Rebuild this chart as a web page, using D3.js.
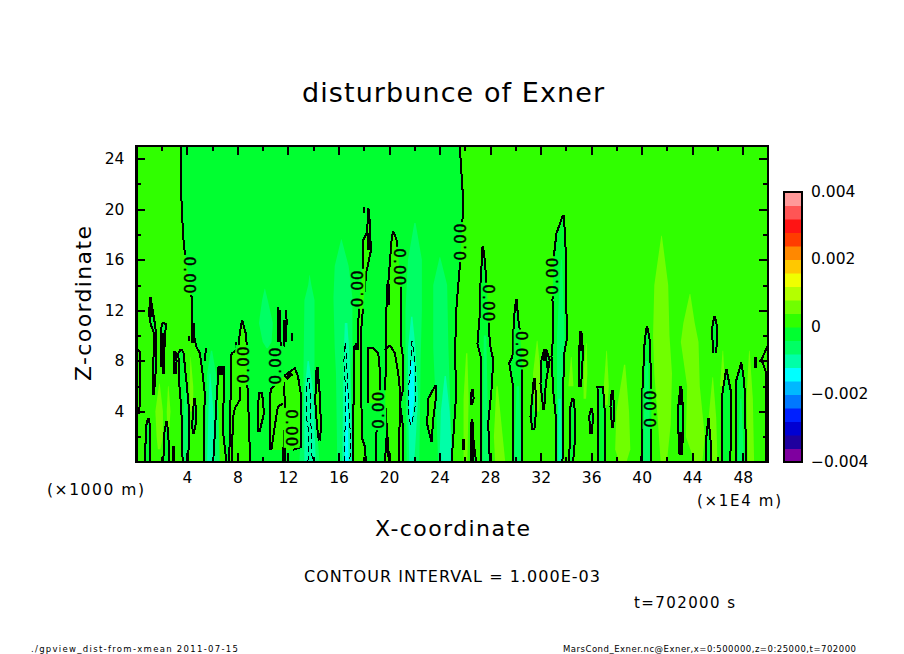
<!DOCTYPE html>
<html>
<head>
<meta charset="utf-8">
<style>
  html, body { margin: 0; padding: 0; background: #fff; }
  svg { display: block; }
  text { font-family: "DejaVu Sans", sans-serif; fill: #000; }
</style>
<script src="https://cdn.jsdelivr.net/npm/d3@7"></script>
</head>
<body>
<svg></svg>
<script>
// Colour bar: 20 levels between -0.004 and 0.004
let levelColors = ['#7f009f', '#1e009e', '#0000d2', '#0020ff', '#0078ff', '#00b8ff', '#00ffff', '#00ffa8', '#00ff64', '#00ff30',
                   '#30ff00', '#70ff00', '#b4ff00', '#f0ff00', '#ffc800', '#ff8800', '#ff3c00', '#ff1414', '#ff5555', '#ff9999']
let barTicks = [0.004, 0.002, 0, -0.002, -0.004]
let barTickLabels = ['0.004', '0.002', '0', '\u22120.002', '\u22120.004']

let xMajor = [4, 8, 12, 16, 20, 24, 28, 32, 36, 40, 44, 48]
let xMinor = [2, 6, 10, 14, 18, 22, 26, 30, 34, 38, 42, 46]
let zMajor = [4, 8, 12, 16, 20, 24]
let zMinor = [2, 6, 10, 14, 18, 22]

// Zero contours that split the field into positive / negative / positive, [x, z]
let divideLeft = [[3.5, 25], [3.58, 20.2], [3.71, 17.8], [3.84, 16.5], [4.37, 13.05], [4.37, 12.8], [4.45, 10.4], [4.76, 9.1], [5.03, 8.6], [5.24, 7], [5.42, 5.4], [5.34, 2.8], [5.34, 0]]
let divideRight = [[25.6, 25], [25.82, 21.5], [25.82, 19.26], [25.6, 15.44], [25.34, 12.28], [25.21, 8.33], [25.34, 5.7], [24.95, 0]]

// Closed or bottom-open zero contours, rows of [z, xLeft, xRight] from the bottom up
let negativePlumes = [
  [[5.3, 1.34, 1.39], [7.5, 1.34, 1.55], [10.2, 1.39, 1.55], [10.9, 1.13, 1.47], [11.7, 1, 1.34], [12.8, 1.08, 1.16], [13, 1.1, 1.12]],
  [[7, 2.13, 2.16], [9.6, 1.92, 2.24], [10.9, 2, 2.34], [11, 2.1, 2.13]],
  [[7, 3, 3.1], [8, 2.95, 3.18], [8.7, 3, 3.1]],
  [[0, 3.66, 4.1], [3.58, 3.58, 4.2], [4.9, 3.5, 4.1], [6.2, 3.39, 3.98], [7.5, 3.36, 3.84], [8.58, 3.32, 3.75], [8.9, 3.5, 3.6]],
  [[2.2, 4.47, 4.53], [3, 4.42, 4.7], [4.2, 4.5, 4.72], [4.95, 4.58, 4.62]],
  [[0, 0.68, 1.08], [2.8, 0.76, 1.08], [3.4, 0.9, 1]],
  [[0, 2.13, 2.58], [2.26, 2.21, 2.53], [3.13, 2.35, 2.42]],
  [[0, 2.9, 3], [1.2, 2.93, 2.97]],
  [[0, 27.24, 27.98], [3.06, 27.3, 27.85], [5.7, 27.3, 28.11], [8.06, 27.32, 28.25], [9.38, 27, 27.98], [11.75, 27.19, 27.85], [14.12, 27.24, 27.72], [15.97, 27.35, 27.58], [17, 27.4, 27.45]],
  [[4.5, 26.5, 26.55], [5, 26.45, 26.7], [5.7, 26.55, 26.65]],
  [[0, 26.6, 26.9], [1.5, 26.5, 26.7], [3.3, 26.55, 26.6]],
  [[0.95, 25.85, 25.95], [1.75, 25.85, 25.95]],
  [[0, 29.83, 30.54], [5.96, 29.83, 30.54], [7.8, 29.51, 30.54], [8.33, 29.77, 30.5], [10.43, 29.85, 30.35], [11.5, 29.9, 30.2], [12.8, 30.05, 30.12]],
  [[4.1, 32.22, 32.28], [6.2, 31.99, 32.41], [8.06, 32.07, 32.72], [8.85, 32.28, 32.46]],
  [[2.5, 31.36, 31.5], [3.6, 31.2, 31.6], [4.5, 31.28, 31.67], [6.6, 31.46, 31.54]],
  [[0, 33.25, 33.73], [3.06, 33.25, 33.78], [5.7, 32.99, 33.8], [8.33, 32.86, 33.83], [9.9, 32.99, 34.1], [12.8, 32.94, 34.02], [16.2, 33.04, 34], [18.07, 33.25, 33.93], [19.5, 33.75, 33.82]],
  [[5.9, 35.03, 35.2], [8.8, 35.02, 35.36], [9.4, 35.1, 35.3], [10.3, 35.14, 35.2]],
  [[0, 34.26, 34.57], [1.5, 34.3, 34.7], [4.1, 34.3, 34.7], [5, 34.5, 34.6]],
  [[2.2, 35.95, 36.05], [3.6, 35.84, 36.15], [4.2, 36, 36.05]],
  [[0, 36.55, 37.08], [4, 36.55, 37.08], [5.95, 36.5, 36.94]],
  [[2.7, 37.66, 37.75], [4.4, 37.53, 37.82], [5.6, 37.63, 37.7]],
  [[0, 39.98, 40.77], [5.7, 40.06, 40.77], [9.64, 40.24, 40.64], [10.7, 40.4, 40.45]],
  [[0.55, 43, 43.2], [2.5, 42.9, 43.27], [4.4, 42.9, 43.27], [5.95, 43.07, 43.1]],
  [[8.6, 45.65, 45.9], [10.6, 45.57, 45.99], [11.5, 45.75, 45.8]],
  [[0, 45.07, 45.47], [1.5, 45.07, 45.47], [3.4, 45.27, 45.3]],
  [[0, 46.39, 47.02], [5.4, 46.39, 47.1], [7.3, 46.68, 46.72]],
  [[0, 47.44, 48.28], [5.7, 47.5, 48.15], [6.5, 47.5, 48.1], [7.8, 47.87, 47.9]],
  [[7.4, 49, 49.06], [8.2, 49, 49.06]]
]
let positivePlumes = [
  [[0, 6.08, 7.13], [2.26, 6.21, 6.87], [4.9, 6.34, 6.9], [6.87, 6.47, 6.95], [7.5, 6.5, 6.9]],
  [[0, 7.34, 9.03], [2.26, 7.4, 8.92], [4.9, 7.45, 8.85], [6.47, 7.5, 8.76], [8.58, 7.53, 8.76], [8.97, 8.05, 8.76], [10.16, 8.18, 8.66], [11.16, 8.35, 8.39]],
  [[2.4, 9.6, 9.75], [3.84, 9.6, 10.1], [5.47, 9.7, 9.95]],
  [[0.95, 10.55, 12.4], [1.2, 10.55, 13.05], [5.16, 10.55, 13.05], [5.8, 10.68, 12.95], [6.74, 11.6, 12.8], [7.4, 12.5, 12.56]],
  [[1.7, 14.45, 14.55], [2.8, 14.3, 14.6], [4.9, 14.15, 14.55], [7.4, 14.3, 14.35]],
  [[0, 17.17, 18.17], [1.2, 17.17, 18.09], [2, 17.17, 17.83], [9.12, 17.22, 17.8], [9.38, 17.56, 17.75], [10.96, 17.56, 17.83], [12.8, 17.66, 18], [15.18, 17.9, 18.22], [15.44, 17.96, 18.3], [16.76, 17.96, 18.57], [17.55, 17.96, 18.53], [18.08, 18.22, 18.5], [18.87, 18.3, 18.49], [20.05, 18.33, 18.37]],
  [[0, 20.02, 21.07], [3.06, 19.8, 21.07], [4.64, 19.7, 20.86], [5.7, 19.7, 21.1], [8.33, 19.75, 21.1], [9.38, 19.75, 20.94], [12.28, 19.8, 20.94], [14.12, 19.94, 20.94], [17.55, 20.2, 20.6], [18.2, 20.3, 20.36]],
  [[0, 19.67, 19.99], [1.87, 19.8, 19.85]],
  [[4.64, 18.35, 19.27], [5.96, 18.35, 19.27], [7.27, 18.35, 19.27], [8.6, 18.35, 19.15], [8.98, 18.35, 18.75]],
  [[1.6, 23.35, 23.42], [3, 23.02, 23.45], [5, 23.1, 23.7], [6, 23.63, 23.7]]
]
// Open zero contour pieces inside the plumes, [x, z]
let contourPieces = [
  [[0, 9.05], [0.29, 8.7], [0.29, 4.9], [0.21, 3.84], [0, 3.84]],
  [[8.18, 5.95], [8.18, 4.9], [7.79, 4.24], [7.66, 3.58], [7.53, 0]],
  [[11.2, 12.3], [11.2, 11], [11.34, 10.16], [11.47, 8.84], [11.6, 7], [11.74, 5], [11.74, 3], [11.65, 0]],
  [[11.85, 12], [11.9, 11], [11.66, 9.1]],
  [[11.6, 4.63], [11.2, 4.37], [10.95, 2.8], [10.68, 0.95]],
  [[20.07, 9.25], [20.46, 8.6], [20.73, 7], [20.86, 5.7], [20.8, 0]],
  [[19.67, 8.85], [20.07, 9.25]],
  [[19.27, 5.96], [19, 2.27], [19, 0]],
  [[12.3, 10.2], [12.3, 9.6]],
  [[5.5, 9], [5.42, 8]],
  [[4.13, 10], [4.13, 9.6]],
  [[7.92, 9.5], [7.92, 9]],
  [[18, 20.2], [18, 19.7]],
  [[50, 9.25], [49.47, 8.06], [49.6, 7.8], [49.87, 7], [49.87, 0]]
]
// Stretches where the contour doubles back on itself and prints as a thick stroke, [x, z]
let thickPieces = [
  [[18.38, 16.8], [18.38, 18.1]],
  [[19.94, 12.4], [19.94, 14.1]],
  [[17.5, 8.9], [17.5, 9.4]],
  [[32.35, 8], [32.35, 8.8]],
  [[32.6, 7.4], [32.6, 8]],
  [[11.3, 9.5], [11.25, 12]],
  [[11.75, 9.5], [11.8, 11.2]],
  [[11.85, 6.6], [12.3, 7]],
  [[11.7, 0], [11.7, 1.2]],
  [[2.05, 7.5], [2.05, 10.2]],
  [[4.5, 9.4], [4.5, 11]],
  [[6.68, 6.9], [6.68, 7.5]],
  [[1.12, 11.5], [1.12, 12.6]],
  [[14.32, 6.2], [14.32, 7.3]],
  [[43.1, 0.6], [43.1, 2.4]],
  [[43.1, 4.5], [43.1, 5.8]],
  [[26.6, 0], [26.55, 3.2]],
  [[35.2, 8.8], [35.2, 10.2]]
]
// Contours of -0.001, dashed
let dashedPlumes = [
  [[0, 13.58, 13.92], [2.26, 13.66, 13.84], [3.6, 13.45, 13.8], [5.4, 13.45, 13.76], [6.6, 13.55, 13.7]],
  [[0, 16.5, 16.9], [2, 16.5, 16.95], [5.2, 16.59, 16.77], [8, 16.43, 16.64], [9.4, 16.47, 16.55]],
  [[2.9, 21.7, 21.75], [4.2, 21.52, 22.05], [5.7, 21.52, 22.1], [7.3, 21.7, 22.1], [9.4, 21.78, 21.86], [9.55, 21.8, 21.84]]
]
// Shaded plumes by level, rows of [z, xLeft, xRight]
let fillsMinus1 = [
  [[9, 10.3, 10.4], [9.5, 10, 10.7], [11, 9.7, 10.8], [12.8, 9.95, 10.4], [13.7, 10.15, 10.18]],
  [[0, 12.9, 14.5], [5, 13.2, 14.1], [12.8, 13.3, 14.1], [14, 13.6, 13.85], [14.8, 13.7, 13.72]],
  [[0, 15.9, 17.1], [7, 15.8, 17], [9, 15.7, 17.1], [13, 15.6, 17.1], [15.5, 15.7, 16.8], [17.6, 16.2, 16.25]],
  [[0, 5.4, 6.6], [4, 5.5, 6.5], [7, 5.6, 6.3], [8.8, 5.9, 6]],
  [[0, 21.4, 22.4], [8, 21.3, 22.5], [12, 21.3, 22.6], [16, 21.5, 22.6], [18.9, 22, 22.1]],
  [[0, 23.9, 25], [9, 23.5, 24.7], [14, 23.5, 24.6], [16.2, 24, 24.05]],
  [[0, 29.9, 30.5], [6, 30.1, 30.3]],
  [[0, 33.3, 33.75], [10, 33.3, 33.9], [16, 33.6, 33.7]],
  [[0, 40.1, 40.75], [8, 40.3, 40.5]],
  [[0, 47.6, 48.1], [5, 47.8, 47.9]],
  [[0, 27.4, 27.9], [10, 27.5, 27.7]],
  [[0, 3.7, 4.05], [3, 3.7, 4.1], [6, 3.85, 3.9]]
]
let fillsMinus2 = [
  [[0, 5.6, 6.2], [4, 5.7, 6.1], [7, 5.8, 5.85]],
  [[0, 13.3, 14.2], [5.5, 13.3, 14], [8, 13.55, 13.65]],
  [[0, 16.3, 17.1], [8, 16.4, 16.9], [11, 16.5, 16.7]],
  [[0, 21.6, 22], [5, 21.5, 22.3], [9, 21.5, 22.1], [11.5, 21.75, 21.85]],
  [[0, 24, 25], [4, 24.1, 24.8], [6.8, 24.4, 24.5]],
  [[0, 33.4, 33.7], [5, 33.4, 33.6]]
]
let fillsMinus3 = [
  [[3, 21.7, 21.8], [5, 21.55, 22], [8, 21.7, 21.95]],
  [[0, 16.5, 16.8], [6, 16.6, 16.7]]
]
let fillsPlus1 = [
  [[0, 41.5, 42], [3, 41.3, 42.3], [7, 41, 42.4], [10, 40.9, 42.2], [14, 41, 42.1], [17.9, 41.55, 41.6]],
  [[0, 44.2, 44.8], [2, 43.5, 45], [6, 43.6, 44.6], [9.5, 43.1, 44.5], [11, 43.3, 44.2], [13.3, 43.8, 43.85]],
  [[0, 38.2, 38.8], [1, 37.9, 39.1], [4, 38, 39], [7.7, 38.6, 38.7]],
  [[4.5, 37.1, 37.3], [6, 37, 37.4], [8.8, 37.2, 37.25]],
  [[5, 35.4, 35.6], [7, 35.4, 35.7], [9.4, 35.6, 35.65]],
  [[6, 34.2, 34.6], [8.3, 34.4, 34.45]],
  [[0, 48.4, 48.9], [5, 48.3, 48.8], [8.8, 48.5, 48.55]],
  [[0, 45.6, 46], [3.5, 45.3, 45.9], [6.7, 45.6, 45.65]],
  [[6, 46.2, 46.6], [8.8, 46.4, 46.45]],
  [[0, 28.4, 29.2], [2, 28.3, 29], [6, 28.5, 28.6]],
  [[0, 25.9, 26.2], [5, 25.9, 26.3], [8.6, 26.1, 26.2]],
  [[4, 31.5, 31.9], [7, 31.4, 32], [9.6, 31.7, 31.75]],
  [[1, 1.7, 1.9], [2, 1.6, 2.1], [4, 1.5, 2.1], [6.2, 1.8, 1.85]],
  [[2.5, 2.45, 2.6], [4, 2.4, 2.7], [6, 2.5, 2.55]],
  [[4, 4.25, 4.5], [6, 4.2, 4.5], [8.3, 4.28, 4.3]]
]
// Contour labels, [x, z, angle]
let contourLabels = [[4.18, 14.8, 90], [8.46, 7.67, -90], [11.05, 7.6, -90], [12.29, 2.7, 90], [17.5, 13.7, -90], [20.86, 15.44, 90],
                     [19.14, 4.1, -90], [25.65, 17.4, -90], [27.9, 12.6, 90], [30.5, 8.9, 90], [32.98, 14.7, -90], [40.7, 4.2, -90]]

let width = 904
let height = 654
let plot = {left: 136.4, right: 768, top: 146, bottom: 462}
let bar = {left: 784, right: 802, top: 192, bottom: 462}

let svg = d3.select('svg').attr('width', width).attr('height', height)

let xScale = d3.scaleLinear().domain([0, 50]).range([plot.left, plot.right])
let zScale = d3.scaleLinear().domain([0, 25]).range([plot.bottom, plot.top])
let barScale = d3.scaleLinear().domain([-0.004, 0.004]).range([bar.bottom, bar.top])

let line = d3.line().x((p) => xScale(p[0])).y((p) => zScale(p[1]))

// rows of [z, xLeft, xRight] -> outline going up the left side and down the right side
let outline = (rows) => {
    let up = rows.map((r) => [r[1], r[0]])
    let down = rows.map((r) => [r[2], r[0]]).reverse()
    return up.concat(down)
}

let defs = svg.append('defs')
defs.append('clipPath').attr('id', 'plot-clip')
    .append('rect')
    .attr('x', plot.left).attr('y', plot.top)
    .attr('width', plot.right - plot.left).attr('height', plot.bottom - plot.top)

// Contour lines break where a label sits
let mask = defs.append('mask').attr('id', 'label-gaps').attr('maskUnits', 'userSpaceOnUse')
    .attr('x', 0).attr('y', 0).attr('width', width).attr('height', height)
mask.append('rect').attr('width', width).attr('height', height).attr('fill', '#fff')
mask.selectAll('rect.gap')
    .data(contourLabels)
    .enter()
    .append('rect')
    .attr('class', 'gap')
    .attr('x', -20).attr('y', -8).attr('width', 40).attr('height', 16)
    .attr('fill', '#000')
    .attr('transform', (d) => 'translate(' + xScale(d[0]) + ',' + zScale(d[1]) + ') rotate(' + d[2] + ')')

let field = svg.append('g').attr('clip-path', 'url(#plot-clip)')

// Field shading
let colorPlus = levelColors[10]
let colorMinus = levelColors[9]
field.append('rect')
    .attr('x', xScale(0)).attr('y', zScale(25))
    .attr('width', xScale(50) - xScale(0)).attr('height', zScale(0) - zScale(25))
    .attr('fill', colorPlus)
field.append('path')
    .attr('d', line(divideLeft.concat(divideRight.slice().reverse())) + 'Z')
    .attr('fill', colorMinus)

let drawFills = (rowsList, color) => {
    field.append('g')
        .selectAll('path')
        .data(rowsList)
        .enter()
        .append('path')
        .attr('d', (rows) => line(outline(rows)) + 'Z')
        .attr('fill', color)
}
drawFills(negativePlumes, colorMinus)
drawFills(positivePlumes, colorPlus)
drawFills(fillsPlus1, levelColors[11])
drawFills(fillsMinus1, levelColors[8])
drawFills(fillsMinus2, levelColors[7])
drawFills(fillsMinus3, levelColors[6])

// Contour lines
let contours = field.append('g')
    .attr('mask', 'url(#label-gaps)')
    .attr('fill', 'none')
    .attr('stroke', '#000')
    .attr('stroke-width', 2)
    .attr('shape-rendering', 'crispEdges')

contours.selectAll('path.solid')
    .data(negativePlumes.concat(positivePlumes))
    .enter()
    .append('path')
    .attr('class', 'solid')
    .attr('d', (rows) => line(outline(rows)))
contours.selectAll('path.piece')
    .data(contourPieces.concat([divideLeft, divideRight]))
    .enter()
    .append('path')
    .attr('class', 'piece')
    .attr('d', line)
contours.selectAll('path.thick')
    .data(thickPieces)
    .enter()
    .append('path')
    .attr('class', 'thick')
    .attr('d', line)
    .attr('stroke-width', 4)
contours.selectAll('path.dashed')
    .data(dashedPlumes)
    .enter()
    .append('path')
    .attr('class', 'dashed')
    .attr('d', (rows) => line(outline(rows)))
    .attr('stroke-width', 1)
    .attr('stroke-dasharray', '6,4')

// Contour labels
field.append('g')
    .selectAll('text')
    .data(contourLabels)
    .enter()
    .append('text')
    .attr('transform', (d) => 'translate(' + xScale(d[0]) + ',' + zScale(d[1]) + ') rotate(' + d[2] + ')')
    .attr('text-anchor', 'middle')
    .attr('dy', '0.36em')
    .attr('font-size', 15)
    .attr('textLength', 37)
    .attr('lengthAdjust', 'spacing')
    .attr('stroke', '#000')
    .attr('stroke-width', 0.4)
    .text('0.00')

// Axes: ticks point into the frame, labels only on the bottom and left
let styleAxis = (g) => {
    g.select('.domain').remove()
    g.selectAll('.tick line').attr('stroke', '#000').attr('stroke-width', 2).attr('shape-rendering', 'crispEdges')
    g.selectAll('text').attr('font-size', 15.5).attr('fill', '#000').attr('font-family', '"DejaVu Sans", sans-serif')
}

let xFormat = d3.format('d')
svg.append('g')
    .attr('transform', 'translate(0,' + plot.bottom + ')')
    .call(d3.axisBottom(xScale).tickValues(xMajor).tickSizeInner(-9).tickPadding(10).tickFormat(xFormat))
    .call(styleAxis)
svg.append('g')
    .attr('transform', 'translate(0,' + plot.bottom + ')')
    .call(d3.axisBottom(xScale).tickValues(xMinor).tickSizeInner(-5).tickFormat(''))
    .call(styleAxis)
svg.append('g')
    .attr('transform', 'translate(0,' + plot.top + ')')
    .call(d3.axisTop(xScale).tickValues(xMajor).tickSizeInner(-9).tickFormat(''))
    .call(styleAxis)
svg.append('g')
    .attr('transform', 'translate(0,' + plot.top + ')')
    .call(d3.axisTop(xScale).tickValues(xMinor).tickSizeInner(-5).tickFormat(''))
    .call(styleAxis)
svg.append('g')
    .attr('transform', 'translate(' + plot.left + ',0)')
    .call(d3.axisLeft(zScale).tickValues(zMajor).tickSizeInner(-9).tickPadding(12).tickFormat(xFormat))
    .call(styleAxis)
svg.append('g')
    .attr('transform', 'translate(' + plot.left + ',0)')
    .call(d3.axisLeft(zScale).tickValues(zMinor).tickSizeInner(-5).tickFormat(''))
    .call(styleAxis)
svg.append('g')
    .attr('transform', 'translate(' + plot.right + ',0)')
    .call(d3.axisRight(zScale).tickValues(zMajor).tickSizeInner(-9).tickFormat(''))
    .call(styleAxis)
svg.append('g')
    .attr('transform', 'translate(' + plot.right + ',0)')
    .call(d3.axisRight(zScale).tickValues(zMinor).tickSizeInner(-5).tickFormat(''))
    .call(styleAxis)

svg.append('rect')
    .attr('x', plot.left).attr('y', plot.top)
    .attr('width', plot.right - plot.left).attr('height', plot.bottom - plot.top)
    .attr('fill', 'none').attr('stroke', '#000').attr('stroke-width', 2.5)
    .attr('shape-rendering', 'crispEdges')

// Colour bar
let barStep = 0.008 / levelColors.length
svg.append('g')
    .selectAll('rect')
    .data(levelColors)
    .enter()
    .append('rect')
    .attr('x', bar.left)
    .attr('width', bar.right - bar.left)
    .attr('y', (c, i) => barScale(-0.004 + (i + 1) * barStep))
    .attr('height', (c, i) => barScale(-0.004 + i * barStep) - barScale(-0.004 + (i + 1) * barStep) + 0.5)
    .attr('fill', (c) => c)
svg.append('rect')
    .attr('x', bar.left).attr('y', bar.top)
    .attr('width', bar.right - bar.left).attr('height', bar.bottom - bar.top)
    .attr('fill', 'none').attr('stroke', '#000').attr('stroke-width', 2)
    .attr('shape-rendering', 'crispEdges')
svg.append('g')
    .selectAll('text')
    .data(barTicks)
    .enter()
    .append('text')
    .attr('x', 811)
    .attr('y', (d) => barScale(d) - 1)
    .attr('dy', '0.36em')
    .attr('font-size', 15.5)
    .text((d, i) => barTickLabels[i])

// Titles and notes, fitted to the width they take in the original
let addText = (str, x, y, size, length, anchor) => {
    return svg.append('text')
        .attr('x', x).attr('y', y)
        .attr('font-size', size)
        .attr('textLength', length)
        .attr('lengthAdjust', 'spacing')
        .attr('text-anchor', anchor || 'start')
        .text(str)
}
addText('disturbunce of Exner', 302, 102, 27, 302)
addText('X-coordinate', 375, 536, 22, 155)
addText('CONTOUR INTERVAL = 1.000E-03', 304, 582, 16, 296)
addText('(\u00d71000 m)', 47, 495, 15.5, 97)
addText('(\u00d71E4 m)', 697, 506, 15, 84)
addText('t=702000 s', 634, 608, 15, 101)
addText('./gpview_dist-from-xmean  2011-07-15', 31, 652, 8.5, 207)
addText('MarsCond_Exner.nc@Exner,x=0:500000,z=0:25000,t=702000', 563, 652, 8.5, 293)
svg.append('text')
    .attr('transform', 'translate(91,381) rotate(-90)')
    .attr('font-size', 22)
    .attr('textLength', 155)
    .attr('lengthAdjust', 'spacing')
    .text('Z-coordinate')
</script>
</body>
</html>
